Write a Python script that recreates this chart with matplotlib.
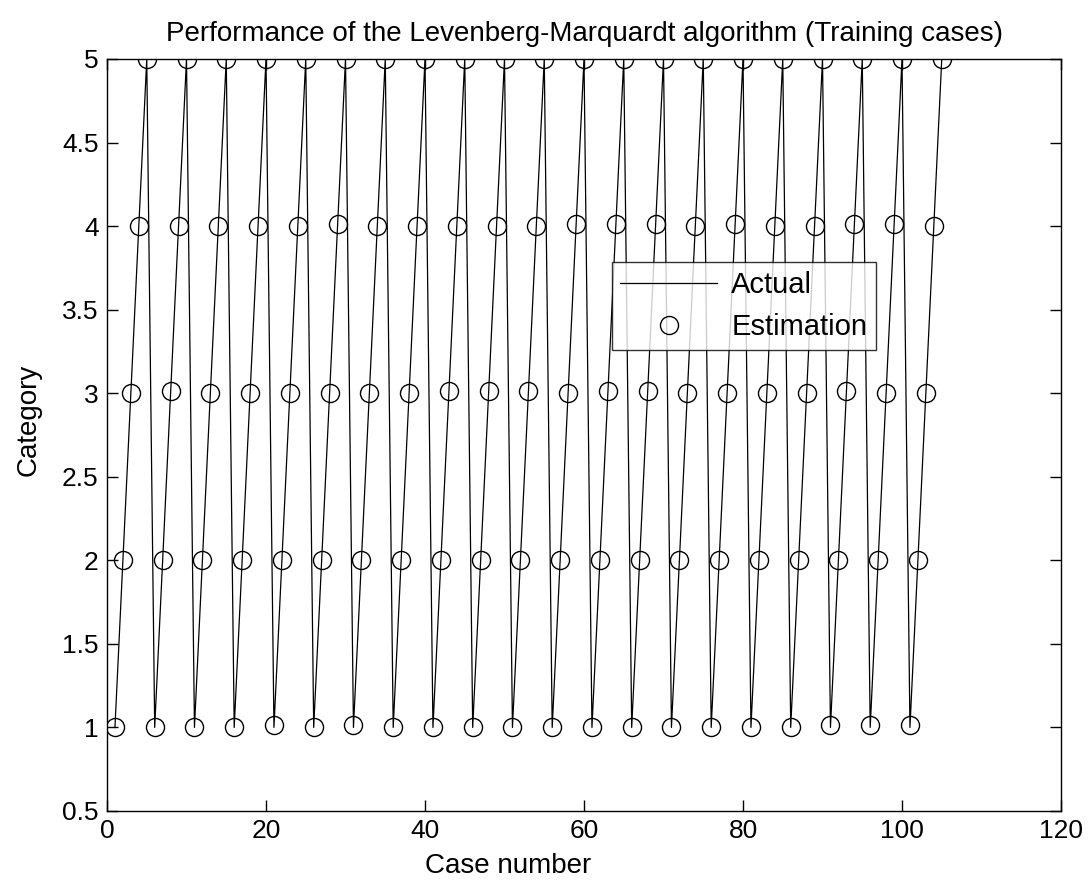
import numpy as np
import matplotlib
matplotlib.use("Agg")
import matplotlib.pyplot as plt

plt.rcParams['font.family'] = ['Liberation Sans', 'DejaVu Sans']

# Data
cases = np.arange(1, 106)
actual = [1, 2, 3, 4, 5] * 21

estimation = list(actual)
# estimations that sit slightly above the target category
high_4 = [29, 59, 64, 69, 79, 94, 99]
high_3 = [8, 43, 48, 53, 63, 68, 93]
high_1 = [21, 31, 91, 96, 101]
for c in high_4 + high_3 + high_1:
    estimation[c - 1] = estimation[c - 1] + 0.015

fig = plt.figure(figsize=(10.89, 8.84), dpi=100)
ax = fig.add_axes([107 / 1089, 1 - 811 / 884, 954 / 1089, 752 / 884])

ax.plot(cases, actual, color='black', lw=0.9, label='Actual')
ax.plot(cases, estimation, linestyle='none', marker='o', markersize=13,
        markerfacecolor='none', markeredgecolor='black', markeredgewidth=1.0,
        label='Estimation')

ax.set_xlim(0, 120)
ax.set_ylim(0.5, 5)
ax.set_xticks(np.arange(0, 121, 20))
ax.set_yticks(np.arange(0.5, 5.01, 0.5))
ax.set_yticklabels(['0.5', '1', '1.5', '2', '2.5', '3', '3.5', '4', '4.5', '5'])
ax.tick_params(direction='in', length=8, width=1, top=True, right=True,
               labelsize=19, pad=6)
for s in ax.spines.values():
    s.set_linewidth(1.0)

ax.set_title('Performance of the Levenberg-Marquardt algorithm (Training cases)',
             fontsize=20, pad=13)
ax.set_xlabel('Case number', fontsize=20)
ax.xaxis.set_label_coords(0.42, -0.056)
ax.set_ylabel('Category', fontsize=20)
ax.yaxis.set_label_coords(-0.069, 0.52)

leg = ax.legend(loc='upper left', bbox_to_anchor=(0.529, 0.730), fontsize=21,
                frameon=True, fancybox=False, edgecolor='black',
                handlelength=3.3, handletextpad=0.5, borderpad=0.3,
                labelspacing=0.5, borderaxespad=0)
leg.get_frame().set_linewidth(1.0)

fig.savefig('out.png', dpi=100)
